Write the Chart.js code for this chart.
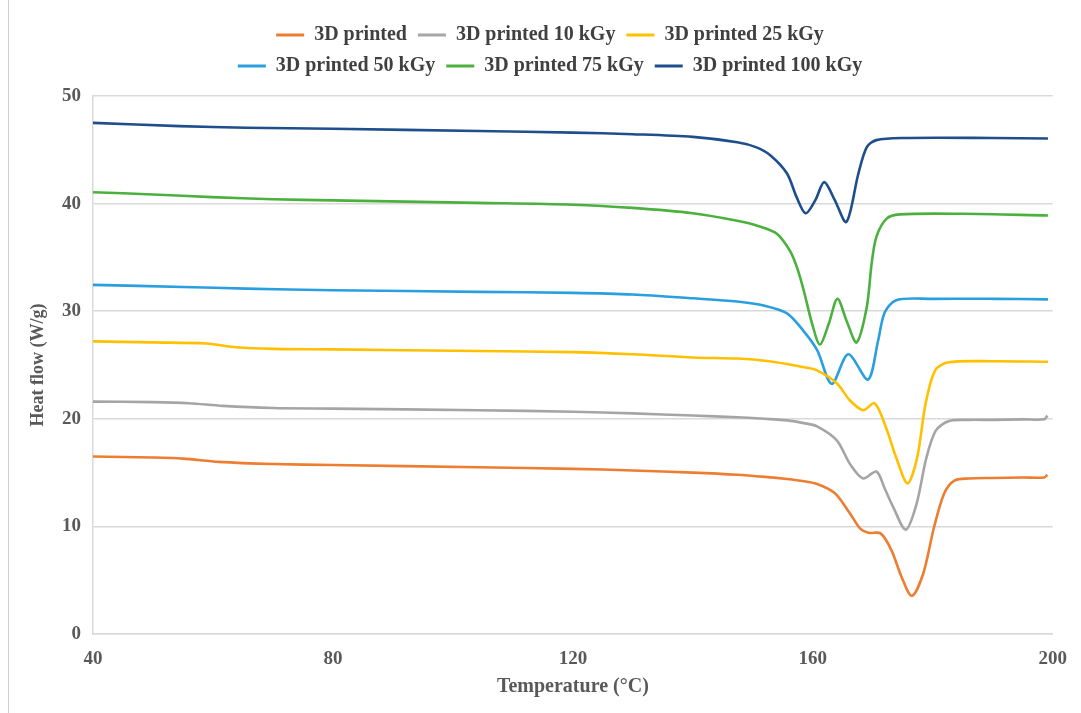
<!DOCTYPE html>
<html>
<head>
<meta charset="utf-8">
<script src="https://cdn.jsdelivr.net/npm/chart.js@4.4.1/dist/chart.umd.min.js"></script>
<style>
html,body{margin:0;padding:0;background:#fff;}
#wrap{position:relative;width:1081px;height:713px;overflow:hidden;}
#frame{position:absolute;left:8px;top:0;width:1px;height:713px;background:#cfcfcf;pointer-events:none;}
canvas{position:absolute;left:0;top:0;}
</style>
</head>
<body>
<div id="wrap"><canvas id="c" width="1081" height="713"></canvas><div id="frame"></div></div>
<script>
// ---- data ----
const seriesNames = ['3D printed', '3D printed 10 kGy', '3D printed 25 kGy', '3D printed 50 kGy', '3D printed 75 kGy', '3D printed 100 kGy'];
const seriesColors = ['#ED7D31', '#A5A5A5', '#FFC000', '#2A9FE0', '#4BB03E', '#1F4E8C'];

const tPrinted  = [40,50,55,61,70,80,104.2,120,130,140,147.4,152,155.7,158.5,160.7,162.5,164,166.2,167.9,169.3,171.3,173.1,174.8,176.5,178.4,180.2,181.9,183.6,186,190,195,198.6,199.1];
const hfPrinted = [16.5,16.4,16.3,16.0,15.8,15.7,15.5,15.35,15.2,15.0,14.8,14.6,14.4,14.2,13.95,13.5,12.9,11.2,9.8,9.4,9.35,7.8,5.3,3.55,5.6,9.9,13.05,14.25,14.45,14.5,14.55,14.55,14.8];

const t10  = [40,50,56,61.6,70,80,104.2,120,130,140,147.4,152,155.7,158.5,160.7,164,166.2,168.4,170.6,172,173.4,175.5,177.3,178.9,180.5,182.7,186,190,195,198.6,199.1];
const hf10 = [21.6,21.55,21.45,21.2,21.0,20.95,20.8,20.65,20.5,20.3,20.15,20.0,19.85,19.6,19.3,18.0,15.8,14.45,15.1,13.5,11.8,9.7,12.1,16.3,18.9,19.8,19.9,19.9,19.95,19.95,20.3];

const t25  = [40,50,58.9,63.9,70,80,104.2,120,130,140,147.4,152,155.7,158.5,160.7,164,166.2,168.4,170.3,172.2,173.9,175.8,177.4,178.8,180.4,182.6,190,199.2];
const hf25 = [27.2,27.1,27.0,26.65,26.5,26.45,26.3,26.2,26.0,25.7,25.6,25.4,25.1,24.8,24.5,23.3,21.7,20.8,21.45,19.2,16.4,14.0,16.4,21.4,24.5,25.25,25.35,25.3];

const t50  = [40,55,65.5,80,104.2,120,130,140,147.4,152,155.7,158.4,160.7,163.15,165.9,169.2,170.9,172,174,180,190,199.2];
const hf50 = [32.45,32.25,32.1,31.95,31.8,31.7,31.55,31.2,30.9,30.5,29.8,28.2,26.4,23.25,26.0,23.65,27.3,29.9,31.05,31.15,31.15,31.1];

const t75  = [40,50,59.8,70,80,104.2,120,130,140,147.4,151,154,156.2,157.4,158.5,159.9,161.2,162.7,164.1,165.7,167.3,169,169.8,170.6,172.3,174.5,185,199.2];
const hf75 = [41.06,40.85,40.6,40.4,40.3,40.07,39.9,39.6,39.1,38.4,37.9,37.2,35.6,34.0,31.9,28.8,26.9,28.9,31.15,29.0,27.1,30.4,34.4,36.9,38.6,39.0,39.05,38.9];

const t100  = [40,54.4,65.5,80,104.2,120,130,140,147.4,150.5,152.9,155.7,157.3,158.8,160.4,161.9,163.6,165.6,167.6,169,170.6,175,190,199.2];
const hf100 = [47.5,47.2,47.05,46.95,46.75,46.6,46.45,46.2,45.7,45.25,44.5,42.8,40.6,39.1,40.3,42.0,40.4,38.3,42.8,45.25,45.9,46.1,46.1,46.05];

const xTicks = [40, 80, 120, 160, 200];
const yTicks = [0, 10, 20, 30, 40, 50];
const xTitle = 'Temperature (°C)';
const yTitle = 'Heat flow (W/g)';

// ---- build chart ----
const temps = [tPrinted, t10, t25, t50, t75, t100];
const flows = [hfPrinted, hf10, hf25, hf50, hf75, hf100];

const datasets = seriesNames.map((name, i) => ({
  label: name,
  data: temps[i].map((t, j) => ({x: t, y: flows[i][j]})),
  borderColor: seriesColors[i],
  backgroundColor: seriesColors[i],
  borderWidth: 2.6,
  pointRadius: 0,
  fill: false,
  tension: 0.3
}));

const serif = "'Liberation Serif', 'Times New Roman', serif";

const legendRows = {
  id: 'legendRows',
  beforeInit(chart) {
    const lg = chart.legend;
    if (!lg) return;
    const fit = lg.fit;
    lg.fit = function () {
      const full = this.maxWidth;
      this.maxWidth = 700;
      fit.call(this);
      this.maxWidth = full;
      this.width = full;
      this.height = 82;
    };
    const draw = lg.draw;
    lg.draw = function () {
      const L = this.left, R = this.right;
      this.left = 100; this.right = 1000;
      draw.call(this);
      this.left = L; this.right = R;
    };
  }
};

new Chart(document.getElementById('c'), {
  type: 'line',
  data: {datasets},
  plugins: [legendRows],
  options: {
    responsive: false,
    animation: false,
    layout: {padding: {left: 0, right: 24, top: 14, bottom: 0}},
    plugins: {
      tooltip: {enabled: false},
      legend: {
        position: 'top',
        labels: {
          boxWidth: 28,
          boxHeight: 3,
          padding: 11,
          color: '#404040',
          font: {family: serif, size: 20, weight: 'bold'},
          generateLabels(chart) {
            return Chart.defaults.plugins.legend.labels.generateLabels(chart)
              .map(l => Object.assign(l, {lineWidth: 0, fillStyle: l.strokeStyle}));
          }
        }
      }
    },
    scales: {
      x: {
        type: 'linear',
        min: xTicks[0],
        max: xTicks[xTicks.length - 1],
        afterBuildTicks(scale) { scale.ticks = xTicks.map(v => ({value: v})); },
        afterFit(scale) { scale.height = 79; },
        grid: {display: false, drawTicks: false},
        border: {display: true, color: '#d9d9d9', width: 1.5},
        ticks: {padding: 14, color: '#595959', font: {family: serif, size: 19, weight: 'bold'}},
        title: {display: true, text: xTitle, color: '#595959', padding: {top: 0, bottom: 14},
                font: {family: serif, size: 20, weight: 'bold'}}
      },
      y: {
        type: 'linear',
        min: yTicks[0],
        max: yTicks[yTicks.length - 1],
        afterBuildTicks(scale) { scale.ticks = yTicks.map(v => ({value: v})); },
        afterFit(scale) { scale.width = 93; },
        grid: {color: '#d9d9d9', lineWidth: 1.5, drawTicks: false},
        border: {display: true, color: '#d9d9d9', width: 1.5},
        ticks: {padding: 12, color: '#595959', font: {family: serif, size: 19, weight: 'bold'}},
        title: {display: true, text: yTitle, color: '#595959', padding: {top: 28, bottom: 0},
                font: {family: serif, size: 18, weight: 'bold'}}
      }
    }
  }
});
</script>
</body>
</html>
